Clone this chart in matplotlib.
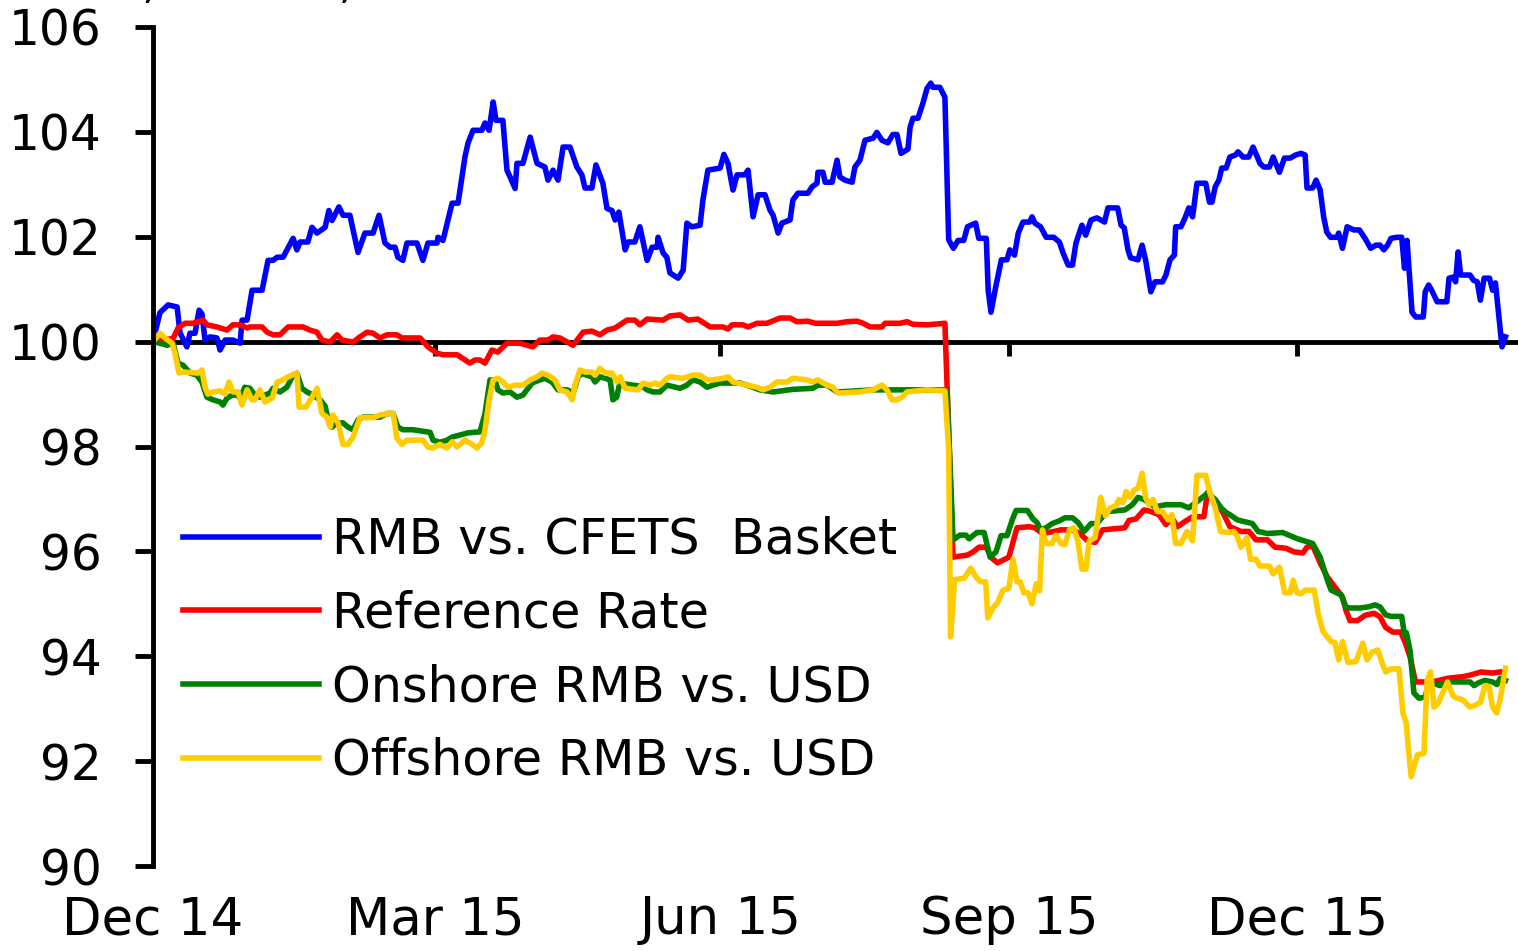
import matplotlib
matplotlib.use('Agg')
import matplotlib.pyplot as plt

# days since 31 Dec 2014, index values (31 Dec 2014 = 100)
cfets_x = [0, 2.2, 4.8, 7.7, 8.6, 10.8, 11.8, 13.4, 14.7, 15.6, 16.6, 18.2, 20.4, 21.4, 23.0, 25.5, 27.8, 28.4, 30.0,
           31.6, 34.8, 36.7, 38.3, 39.6, 41.5, 44.7, 45.9, 46.9, 49.4, 50.7, 52.3, 54.9, 56.1, 57.1, 59.3, 60.6, 62.8,
           65.4, 67.6, 70.2, 72.1, 74.0, 75.6, 77.2, 78.1, 79.7, 81.0, 84.2, 86.1, 87.7, 90.6, 90.9, 92.5, 95.4, 97.3,
           99.5, 100.5, 102.1, 104.9, 105.9, 107.2, 108.5, 109.4, 111.6, 112.9, 113.9, 115.5, 116.1, 118.0, 120.3,
           122.5, 125.0, 126.0, 127.6, 129.2, 130.8, 133.0, 135.2, 136.8, 137.8, 140.0, 141.3, 143.5, 144.8, 146.4,
           147.4, 148.6, 150.6, 151.5, 153.7, 155.3, 157.6, 159.2, 160.8, 161.1, 162.7, 163.9, 164.9, 167.5, 169.1,
           170.3, 171.9, 174.5, 175.4, 177.0, 180.9, 182.1, 183.4, 185.0, 186.3, 188.8, 189.8, 191.4, 193.0, 195.2,
           196.8, 197.8, 199.4, 200.6, 203.2, 204.1, 205.7, 208.9, 210.2, 211.8, 212.1, 213.7, 214.4, 216.6, 218.2,
           219.1, 220.7, 223.0, 223.9, 225.5, 227.1, 229.7, 230.9, 232.5, 234.4, 236.0, 237.3, 238.6, 240.8, 241.5,
           242.4, 244.0, 245.6, 246.9, 248.1, 248.8, 251.0, 252.6, 253.8, 255.3, 256.8, 258.6, 259.8, 262.4, 263.4,
           265.8, 266.4, 267.3, 268.8, 270.6, 272.4, 273.3, 274.8, 276.0, 277.5, 279.6, 280.4, 281.3, 283.1, 284.9,
           287.3, 289.1, 290.3, 291.9, 293.3, 294.4, 296.3, 297.5, 299.2, 301.1, 303.5, 304.6, 307.7, 308.8, 309.8,
           311.0, 311.8, 314.2, 315.5, 316.6, 318.3, 319.6, 322.0, 323.1, 324.4, 325.8, 326.2, 327.9, 329.2, 330.4,
           331.6, 333.0, 335.8, 337.0, 337.8, 338.8, 340.0, 340.9, 342.3, 343.5, 345.3, 346.1, 347.7, 349.5, 350.9,
           353.1, 354.3, 356.1, 357.3, 359.3, 360.9, 362.7, 364.5, 366.2, 367.5, 368.1, 369.9, 371.0, 372.3, 373.4,
           374.4, 375.6, 377.7, 378.2, 379.4, 380.9, 383.0, 384.8, 386.6, 388.4, 390.1, 391.4, 392.6, 393.8, 394.9,
           396.8, 398.3, 399.2, 400.0, 401.6, 402.8, 405.2, 405.8, 406.9, 408.1, 409.6, 412.7, 413.4, 414.7, 415.5,
           416.3, 417.1, 420.1, 421.2, 422.4, 423.4, 424.6, 426.3, 427.3, 428.2, 430.3, 431.4]
cfets_y = [100.0, 100.55, 100.70, 100.66, 100.17, 99.90, 100.16, 100.16, 100.60, 100.53, 100.03, 100.09, 100.07, 99.84,
           100.03, 100.03, 99.97, 100.41, 100.41, 100.98, 100.98, 101.55, 101.55, 101.61, 101.61, 101.97, 101.75,
           101.90, 101.90, 102.18, 102.07, 102.18, 102.50, 102.31, 102.57, 102.41, 102.41, 101.70, 102.07, 102.07,
           102.41, 101.88, 101.80, 101.80, 101.61, 101.55, 101.88, 101.88, 101.55, 101.88, 101.88, 101.99, 101.93,
           102.64, 102.64, 103.52, 103.79, 104.03, 104.03, 104.17, 104.03, 104.57, 104.22, 104.22, 103.27, 103.14,
           102.92, 103.40, 103.40, 103.90, 103.40, 103.33, 103.08, 103.27, 103.08, 103.71, 103.71, 103.33, 103.18,
           102.93, 102.93, 103.37, 103.02, 102.54, 102.50, 102.32, 102.47, 101.75, 101.90, 101.90, 102.19, 101.55,
           101.80, 101.80, 101.99, 101.69, 101.61, 101.31, 101.21, 101.36, 102.26, 102.19, 102.22, 102.70, 103.27,
           103.31, 103.57, 103.40, 102.89, 103.18, 103.18, 103.27, 102.38, 102.80, 102.80, 102.51, 102.41, 102.07,
           102.26, 102.32, 102.70, 102.83, 102.83, 102.95, 103.02, 103.23, 103.23, 103.04, 103.04, 103.46, 103.14,
           103.08, 103.04, 103.33, 103.46, 103.84, 103.88, 103.99, 103.84, 103.79, 103.95, 103.95, 103.59, 103.67,
           104.09, 104.26, 104.26, 104.55, 104.83, 104.93, 104.85, 104.85, 104.66, 101.94, 101.78, 101.93, 101.93,
           102.19, 102.26, 101.97, 101.97, 100.98, 100.56, 101.04, 101.56, 101.56, 101.75, 101.65, 102.07, 102.28,
           102.28, 102.38, 102.26, 102.19, 101.99, 101.99, 101.90, 101.69, 101.46, 101.46, 101.88, 102.22, 102.03,
           102.32, 102.36, 102.28, 102.55, 102.55, 102.22, 102.17, 101.75, 101.60, 101.56, 101.84, 101.56, 100.95,
           101.14, 101.14, 101.27, 101.56, 101.65, 102.19, 102.19, 102.36, 102.55, 102.38, 103.02, 103.02, 102.66,
           102.66, 102.95, 103.08, 103.31, 103.31, 103.52, 103.56, 103.62, 103.52, 103.52, 103.71, 103.40, 103.33,
           103.33, 103.52, 103.23, 103.50, 103.50, 103.56, 103.59, 103.56, 102.93, 102.93, 103.08, 102.89, 102.38,
           102.09, 101.99, 101.99, 102.07, 101.78, 102.19, 102.13, 102.13, 101.97, 101.78, 101.84, 101.84, 101.75,
           101.84, 101.97, 101.99, 101.99, 101.40, 101.93, 100.56, 100.47, 100.47, 100.95, 101.08, 100.95, 100.76,
           100.76, 101.21, 101.23, 101.14, 101.71, 101.27, 101.27, 101.17, 101.14, 100.79, 101.21, 101.21, 100.98,
           101.12, 99.90, 100.09]

ref_x = [0, 6.4, 8.0, 10.2, 12.8, 15.9, 17.2, 20.4, 23.6, 25.5, 27.8, 30.0, 30.9, 34.8, 36.4, 38.3, 40.5, 43.1, 47.8,
         50.1, 52.3, 53.9, 56.5, 58.7, 60.3, 63.8, 66.0, 68.3, 70.2, 72.4, 74.6, 77.8, 79.4, 85.2, 87.7, 90.6, 92.5,
         97.0, 101.1, 102.7, 104.3, 105.9, 108.1, 110.0, 112.9, 117.1, 119.3, 121.2, 123.4, 126.0, 127.6, 129.8, 134.0,
         137.2, 140.0, 142.6, 144.8, 147.4, 151.2, 153.7, 155.3, 157.6, 162.7, 164.9, 168.1, 170.7, 173.8, 177.7,
         181.8, 183.4, 184.7, 188.2, 189.8, 192.7, 195.9, 200.0, 203.2, 205.4, 208.9, 211.2, 218.2, 221.4, 224.6,
         226.5, 228.7, 232.5, 233.5, 238.3, 240.5, 242.4, 246.9, 252.6, 255.2, 259.8, 261.6, 263.5, 265.7, 267.6,
         269.4, 273.0, 275.6, 279.4, 281.3, 283.7, 287.4, 289.6, 293.3, 295.7, 298.1, 300.5, 302.9, 310.0, 311.3,
         313.6, 316.1, 318.3, 320.9, 323.1, 325.0, 326.8, 329.2, 331.6, 335.2, 336.4, 338.8, 341.1, 343.5, 347.0,
         349.6, 351.8, 355.5, 357.9, 361.4, 364.0, 366.8, 368.1, 369.9, 372.3, 374.6, 377.0, 379.4, 380.5, 381.8,
         384.2, 386.6, 389.5, 391.4, 393.2, 395.5, 398.0, 399.5, 401.0, 402.7, 408.1, 412.9, 417.7, 420.1, 423.6,
         427.3, 429.7]
ref_y = [100.0, 100.06, 100.26, 100.35, 100.35, 100.41, 100.32, 100.28, 100.22, 100.32, 100.32, 100.26, 100.28, 100.28,
         100.18, 100.13, 100.13, 100.28, 100.28, 100.22, 100.18, 100.03, 99.99, 100.13, 100.03, 99.99, 100.09, 100.18,
         100.16, 100.07, 100.13, 100.13, 100.07, 100.07, 99.90, 99.78, 99.75, 99.75, 99.59, 99.65, 99.65, 99.59, 99.84,
         99.80, 99.97, 99.97, 99.93, 99.90, 100.03, 100.03, 100.09, 100.07, 99.93, 100.18, 100.20, 100.13, 100.22,
         100.26, 100.41, 100.41, 100.32, 100.43, 100.41, 100.49, 100.51, 100.41, 100.43, 100.28, 100.28, 100.24,
         100.32, 100.32, 100.28, 100.35, 100.35, 100.45, 100.45, 100.38, 100.39, 100.35, 100.35, 100.38, 100.39,
         100.35, 100.28, 100.28, 100.35, 100.35, 100.38, 100.33, 100.32, 100.35, 95.89, 95.93, 95.99, 96.08, 96.08,
         95.87, 95.78, 95.89, 96.45, 96.47, 96.45, 96.34, 96.38, 96.41, 96.41, 96.34, 96.20, 96.17, 96.41, 96.45,
         96.59, 96.62, 96.79, 96.76, 96.70, 96.51, 96.64, 96.47, 96.57, 96.66, 96.66, 97.13, 96.93, 96.76, 96.47,
         96.38, 96.38, 96.22, 96.22, 96.08, 96.06, 95.99, 95.97, 96.08, 96.11, 95.78, 95.51, 95.32, 95.13, 94.88,
         94.68, 94.68, 94.78, 94.82, 94.75, 94.55, 94.46, 94.46, 94.25, 93.98, 93.51, 93.51, 93.58, 93.61, 93.64,
         93.70, 93.68, 93.70]

onshore_x = [0, 2.2, 4.5, 6.4, 8.0, 9.6, 11.8, 14.0, 15.6, 17.2, 19.1, 21.4, 22.3, 23.6, 25.2, 26.8, 27.8, 29.3, 30.9,
             32.5, 34.1, 35.7, 37.3, 38.3, 40.5, 42.7, 44.7, 45.9, 47.5, 49.1, 51.0, 53.3, 54.9, 55.8, 57.1, 58.7,
             60.6, 62.2, 63.8, 65.4, 67.0, 72.4, 74.6, 76.6, 78.1, 79.7, 82.9, 86.1, 88.4, 89.3, 91.5, 93.8, 95.4,
             97.9, 100.5, 104.3, 105.9, 107.5, 109.1, 110.0, 111.6, 113.9, 116.1, 118.0, 120.9, 123.4, 125.0, 127.3,
             129.2, 132.1, 134.0, 135.6, 136.8, 140.0, 141.0, 142.6, 145.8, 146.7, 147.9, 148.9, 152.8, 156.0, 157.6,
             159.5, 161.7, 163.9, 168.1, 170.3, 172.2, 174.5, 176.7, 178.6, 180.9, 187.2, 189.5, 193.6, 197.8, 204.1,
             210.5, 212.1, 215.0, 218.2, 229.7, 238.3, 252.0, 253.3, 255.2, 257.4, 259.3, 260.3, 262.8, 265.1, 267.0,
             268.9, 270.5, 272.4, 274.2, 275.3, 278.9, 280.7, 282.0, 283.1, 284.9, 286.8, 289.0, 290.9, 293.3, 295.1,
             297.0, 299.2, 301.1, 302.9, 304.6, 310.0, 312.4, 314.2, 316.1, 319.6, 323.1, 327.9, 330.4, 333.9, 336.4,
             338.8, 340.7, 342.3, 343.5, 345.9, 350.7, 352.5, 355.5, 360.3, 365.1, 369.9, 372.3, 374.6, 375.8, 379.0,
             380.5, 381.8, 384.9, 387.6, 389.8, 391.4, 393.2, 394.9, 398.3, 399.2, 399.8, 401.0, 402.2, 403.8, 405.8,
             407.0, 408.6, 410.5, 412.9, 420.1, 421.4, 423.0, 424.9, 427.3, 428.7, 429.7, 431.4]
onshore_y = [100.0, 99.97, 99.93, 99.97, 99.59, 99.55, 99.40, 99.36, 99.23, 98.94, 98.89, 98.85, 98.79, 98.92, 98.98,
             98.98, 98.92, 99.13, 99.11, 98.98, 98.94, 98.98, 99.02, 99.11, 99.04, 99.13, 99.36, 99.40, 99.11, 99.04,
             98.98, 98.89, 98.77, 98.53, 98.37, 98.45, 98.45, 98.37, 98.32, 98.51, 98.56, 98.56, 98.63, 98.63, 98.37,
             98.32, 98.32, 98.29, 98.27, 98.12, 98.08, 98.12, 98.18, 98.22, 98.26, 98.28, 98.63, 99.27, 99.27, 99.08,
             99.02, 99.04, 98.94, 98.98, 99.21, 99.27, 99.30, 99.23, 99.08, 99.08, 99.02, 99.33, 99.39, 99.33, 99.23,
             99.33, 99.27, 98.89, 98.94, 99.21, 99.17, 99.15, 99.08, 99.04, 99.04, 99.17, 99.11, 99.17, 99.27, 99.23,
             99.13, 99.17, 99.21, 99.21, 99.17, 99.08, 99.04, 99.09, 99.11, 99.17, 99.17, 99.04, 99.08, 99.08, 99.08,
             99.04, 96.22, 96.31, 96.31, 96.24, 96.36, 96.36, 95.89, 95.99, 96.30, 96.30, 96.62, 96.78, 96.78, 96.62,
             96.55, 96.41, 96.45, 96.53, 96.58, 96.64, 96.64, 96.55, 96.38, 96.53, 96.53, 96.66, 96.76, 96.79, 96.89,
             97.03, 96.99, 96.85, 96.89, 96.89, 96.83, 96.99, 97.11, 96.99, 96.83, 96.74, 96.70, 96.60, 96.53, 96.38,
             96.34, 96.36, 96.24, 96.15, 95.89, 95.45, 95.26, 95.17, 94.94, 94.92, 94.92, 94.94, 94.98, 94.94, 94.79,
             94.76, 94.76, 94.41, 94.45, 94.10, 93.30, 93.20, 93.22, 93.54, 93.48, 93.44, 93.51, 93.51, 93.44, 93.50,
             93.54, 93.51, 93.46, 93.58, 93.54]

offshore_x = [0, 2.2, 3.8, 6.1, 7.0, 8.3, 9.6, 14.4, 15.6, 16.6, 17.5, 19.1, 21.4, 23.0, 24.2, 25.5, 27.1, 28.4, 30.0,
              31.6, 32.5, 34.1, 35.7, 38.0, 39.6, 41.5, 43.1, 45.9, 46.6, 48.8, 50.7, 52.3, 53.9, 55.5, 56.5, 57.4,
              59.0, 60.6, 62.2, 63.8, 66.0, 70.2, 72.4, 75.0, 76.6, 77.8, 79.4, 81.0, 86.1, 87.7, 89.3, 91.5, 93.8,
              95.4, 97.0, 99.5, 101.8, 103.3, 104.9, 105.9, 107.2, 108.5, 110.0, 111.6, 113.2, 115.5, 118.0, 120.3,
              122.5, 124.1, 126.0, 128.2, 129.8, 132.1, 133.7, 134.6, 136.2, 137.8, 140.0, 141.0, 142.6, 144.2, 146.4,
              148.0, 149.0, 150.6, 154.7, 156.3, 158.5, 160.1, 161.7, 163.9, 164.9, 169.1, 170.7, 172.2, 174.5, 176.7,
              178.6, 181.8, 183.4, 185.0, 189.5, 192.7, 194.6, 196.8, 199.0, 202.2, 204.1, 208.6, 210.5, 212.1, 215.0,
              216.9, 218.5, 225.5, 229.7, 232.5, 234.1, 235.7, 237.3, 238.9, 240.5, 246.9, 252.6, 253.8, 254.4, 255.7,
              258.8, 260.8, 262.8, 264.0, 265.6, 266.3, 267.9, 269.4, 271.1, 273.0, 274.3, 275.6, 276.6, 277.8, 279.1,
              280.4, 281.7, 282.8, 283.7, 284.9, 286.8, 288.0, 289.6, 290.9, 292.3, 293.8, 295.1, 296.3, 297.6, 298.6,
              300.5, 302.3, 303.8, 305.3, 307.1, 308.1, 309.4, 310.4, 311.8, 312.9, 314.2, 315.5, 316.6, 317.7, 319.0,
              320.3, 322.0, 323.8, 325.0, 326.2, 327.9, 329.8, 331.6, 333.0, 335.8, 337.0, 338.8, 340.5, 343.1, 344.8,
              345.9, 347.0, 348.9, 350.1, 351.8, 353.1, 356.1, 357.3, 359.3, 361.0, 362.7, 363.7, 364.9, 366.2, 367.5,
              370.4, 371.6, 373.2, 375.8, 377.0, 378.2, 379.4, 381.2, 383.7, 385.9, 387.2, 388.9, 390.7, 392.0, 393.2,
              394.9, 397.4, 398.7, 399.7, 401.3, 403.3, 405.4, 406.4, 407.5, 408.6, 409.9, 412.9, 414.7, 416.0, 417.7,
              420.1, 421.9, 423.4, 424.9, 426.2, 427.3, 428.6, 429.7, 431.4]
offshore_y = [100.0, 100.16, 100.07, 99.97, 99.78, 99.40, 99.42, 99.40, 99.46, 99.13, 99.00, 99.04, 99.06, 99.00,
              99.23, 99.04, 99.04, 98.79, 99.08, 98.89, 98.89, 99.08, 98.85, 98.92, 99.23, 99.27, 99.33, 99.40, 98.75,
              98.75, 98.94, 99.11, 98.63, 98.56, 98.37, 98.60, 98.45, 98.04, 98.04, 98.18, 98.55, 98.55, 98.60, 98.63,
              98.63, 98.16, 98.04, 98.12, 98.12, 97.99, 97.97, 98.04, 97.97, 98.09, 97.99, 98.12, 98.04, 97.97, 98.07,
              98.31, 98.89, 99.27, 99.30, 99.23, 99.13, 99.17, 99.17, 99.27, 99.33, 99.40, 99.36, 99.27, 99.08, 99.04,
              98.89, 99.17, 99.46, 99.42, 99.42, 99.36, 99.49, 99.40, 99.40, 99.23, 99.33, 99.11, 99.08, 99.21, 99.17,
              99.21, 99.17, 99.30, 99.33, 99.30, 99.33, 99.36, 99.36, 99.27, 99.27, 99.30, 99.33, 99.23, 99.17, 99.13,
              99.08, 99.13, 99.23, 99.23, 99.30, 99.27, 99.23, 99.27, 99.17, 99.13, 99.02, 99.04, 99.08, 99.17, 99.08,
              98.89, 98.89, 98.94, 99.04, 99.08, 99.06, 97.93, 94.37, 95.46, 95.49, 95.68, 95.49, 95.42, 95.42, 94.73,
              94.92, 95.02, 95.26, 95.30, 95.85, 95.42, 95.42, 95.21, 95.21, 95.00, 95.38, 95.25, 96.41, 96.15, 96.15,
              96.31, 96.15, 96.13, 96.41, 96.45, 96.17, 95.66, 95.66, 96.20, 96.26, 97.03, 96.68, 96.83, 96.87, 96.99,
              96.93, 97.14, 97.03, 97.17, 97.20, 97.49, 97.03, 96.89, 96.99, 96.76, 96.76, 96.60, 96.70, 96.15, 96.15,
              96.38, 96.20, 97.45, 97.45, 97.14, 96.84, 96.38, 96.36, 96.38, 96.28, 96.08, 96.26, 95.85, 95.85, 95.72,
              95.72, 95.57, 95.70, 95.21, 95.21, 95.45, 95.21, 95.19, 95.26, 95.26, 94.83, 94.47, 94.28, 94.26, 93.93,
              94.28, 93.88, 93.90, 94.25, 93.93, 94.08, 94.12, 93.88, 93.70, 93.76, 93.76, 92.92, 92.73, 91.70, 92.12,
              92.15, 93.54, 93.70, 93.03, 93.10, 93.51, 93.24, 93.20, 93.17, 93.03, 93.07, 93.12, 93.44, 93.42, 93.03,
              92.92, 93.17, 93.77]

tick_days = [0, 90, 181, 273, 365]
tick_labels = ['Dec 14', 'Mar 15', 'Jun 15', 'Sep 15', 'Dec 15']
series_names = ['RMB vs. CFETS  Basket', 'Reference Rate', 'Onshore RMB vs. USD', 'Offshore RMB vs. USD']

plt.rcParams['font.family'] = 'DejaVu Sans'

fig = plt.figure(figsize=(15.18, 9.51), dpi=100)
ax = fig.add_axes([153 / 1518, 1 - 866 / 951, 1 - 153 / 1518, (866 - 27) / 951])

lw = 4
ax.plot(cfets_x, cfets_y, color='#0000FF', lw=lw, label=series_names[0])
ax.plot(ref_x, ref_y, color='#FF0000', lw=lw, label=series_names[1])
ax.plot(onshore_x, onshore_y, color='#008000', lw=lw, label=series_names[2])
ax.plot(offshore_x, offshore_y, color='#FFCC00', lw=lw, label=series_names[3])

ax.set_xlim(0, 435.4)
ax.set_ylim(90, 106)
ax.set_yticks(range(90, 107, 2))
ax.tick_params(axis='y', direction='out', length=13, width=3.5, pad=24, labelsize=35)
ax.set_xticks(tick_days)
ax.set_xticklabels(tick_labels)
ax.tick_params(axis='x', length=0, pad=21, labelsize=37)

for s in ['top', 'right', 'bottom']:
    ax.spines[s].set_visible(False)
ax.spines['left'].set_linewidth(3.5)

# x axis line drawn through 100
sec = ax.secondary_xaxis((100 - 90) / 16)
sec.set_alignment('bottom')
sec.set_xticks(tick_days)
sec.set_xticklabels([])
sec.tick_params(direction='out', length=10, width=3.5)
sec.spines['bottom'].set_linewidth(3.5)

ax.legend(loc='upper left', bbox_to_anchor=(183 / 1518, 1 - 516 / 951), bbox_transform=fig.transFigure,
          frameon=False, fontsize=35.5, handlelength=2.75, handletextpad=0.28, labelspacing=0.52,
          borderpad=0, borderaxespad=0)

fig.text(12 / 1518, 1 + 2 / 951, 'Index, Dec 31, 2014 = 100', fontsize=34, va='baseline', ha='left')

fig.savefig('out.png', dpi=100)
